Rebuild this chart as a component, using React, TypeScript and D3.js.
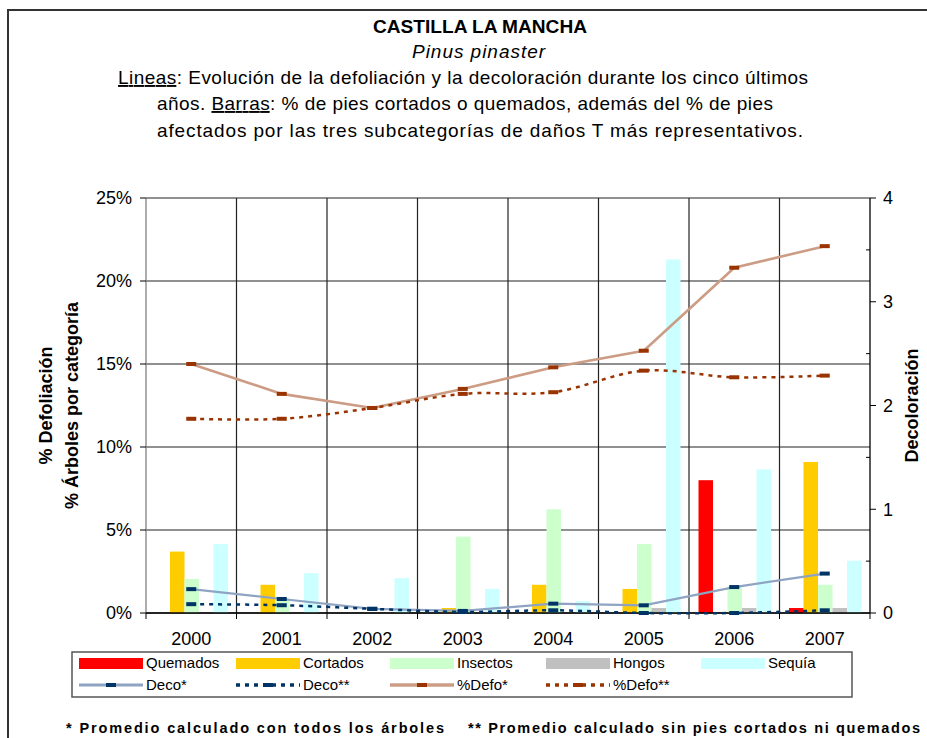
import React from 'react';
import * as d3 from 'd3';

const years = ['2000', '2001', '2002', '2003', '2004', '2005', '2006', '2007'];
const quemados = [0, 0, 0, 0, 0, 0, 8.0, 0.3];
const cortados = [3.7, 1.7, 0, 0.3, 1.7, 1.45, 0, 9.1];
const insectos = [2.05, 0.9, 0, 4.6, 6.25, 4.15, 1.6, 1.7];
const hongos = [0, 0, 0, 0, 0, 0.3, 0.3, 0.3];
const sequia = [4.15, 2.4, 2.1, 1.45, 0.72, 21.3, 8.65, 3.15];

const defoAll = [15.0, 13.2, 12.35, 13.5, 14.8, 15.8, 20.8, 22.1];
const defoSin = [11.7, 11.7, 12.35, 13.2, 13.3, 14.6, 14.2, 14.3];
const decoAll = [0.23, 0.135, 0.04, 0.02, 0.09, 0.074, 0.25, 0.38];
const decoSin = [0.085, 0.075, 0.04, 0.01, 0.026, 0.0, 0.0, 0.026];

const leftTicks = [0, 5, 10, 15, 20, 25];
const rightTicks = [0, 1, 2, 3, 4];
const rightMinor = [0.5, 1.5, 2.5, 3.5];

const barSeries = [
  { name: 'Quemados', values: quemados, color: '#FF0000' },
  { name: 'Cortados', values: cortados, color: '#FFCC00' },
  { name: 'Insectos', values: insectos, color: '#CCFFCC' },
  { name: 'Hongos', values: hongos, color: '#C0C0C0' },
  { name: 'Sequía', values: sequia, color: '#CCFFFF' },
];

const lineSeries = [
  { name: 'Deco*', values: decoAll, axis: 'R', color: '#8EA4C2', width: 2.2, dash: null, marker: '#003366', smooth: false },
  { name: 'Deco**', values: decoSin, axis: 'R', color: '#003366', width: 2.5, dash: '4,5', marker: '#003366', smooth: true },
  { name: '%Defo*', values: defoAll, axis: 'L', color: '#CC9C84', width: 2.6, dash: null, marker: '#993300', smooth: false },
  { name: '%Defo**', values: defoSin, axis: 'L', color: '#993300', width: 2.5, dash: '4,5', marker: '#993300', smooth: true },
];

const FONT = 'Arial, "Liberation Sans", sans-serif';

export default function App() {
  const L = 146, R = 870, T = 198, B = 613;
  const x0 = d3.scaleBand<string>().domain(years).range([L, R]).padding(0);
  const bw = x0.bandwidth();
  const x1 = d3.scaleBand<string>().domain(barSeries.map(s => s.name)).range([9.5, bw - 8.5]).padding(0);
  const yL = d3.scaleLinear().domain([0, 25]).range([B, T]);
  const yR = d3.scaleLinear().domain([0, 4]).range([B, T]);
  const cx = (y: string) => (x0(y) as number) + bw / 2;
  const bounds = years.map(y => x0(y) as number).concat([R]);

  const legendX = [79, 236, 390, 546, 701];

  return (
    <svg width={927} height={738} style={{ position: 'absolute', left: 0, top: 0, background: '#fff' }} fontFamily={FONT}>
      <rect x={0} y={0} width={927} height={738} fill="#fff" />
      <rect x={8} y={10} width={940} height={760} fill="none" stroke="#333" strokeWidth={2} />

      {/* Titles */}
      <text x={373} y={33} fontSize={18} fontWeight="bold" textLength={214} lengthAdjust="spacingAndGlyphs">CASTILLA LA MANCHA</text>
      <text x={412} y={58} fontSize={19} fontStyle="italic" textLength={133} lengthAdjust="spacing">Pinus pinaster</text>
      <text x={118} y={84} fontSize={19} textLength={690} lengthAdjust="spacing">
        <tspan textDecoration="underline">Lineas</tspan>: Evolución de la defoliación y la decoloración durante los cinco últimos
      </text>
      <text x={157} y={110} fontSize={19} textLength={616} lengthAdjust="spacing">
        años. <tspan textDecoration="underline">Barras</tspan>: % de pies cortados o quemados, además del % de pies
      </text>
      <text x={157} y={137} fontSize={19} textLength={646} lengthAdjust="spacing">
        afectados por las tres subcategorías de daños T más representativos.
      </text>

      {/* Horizontal gridlines */}
      {leftTicks.map(t => (
        <line key={'hg' + t} x1={L} x2={R} y1={yL(t)} y2={yL(t)} stroke="#222" strokeWidth={1.2} />
      ))}
      {/* Vertical gridlines */}
      {bounds.slice(1, -1).map((bx, i) => (
        <line key={'vg' + i} x1={bx} x2={bx} y1={T} y2={B} stroke="#222" strokeWidth={1.2} />
      ))}

      {/* Bars */}
      {barSeries.map(s => (
        <g key={s.name}>
          {years.map((y, i) => s.values[i] > 0 ? (
            <rect key={y} x={(x0(y) as number) + (x1(s.name) as number)} width={x1.bandwidth()}
              y={yL(s.values[i])} height={B - yL(s.values[i])} fill={s.color} />
          ) : null)}
        </g>
      ))}

      {/* Axes */}
      <line x1={L} x2={L} y1={T} y2={B} stroke="#808080" strokeWidth={1.3} />
      <line x1={R} x2={R} y1={T} y2={B} stroke="#000" strokeWidth={1.3} />
      <line x1={L} x2={R} y1={B} y2={B} stroke="#000" strokeWidth={1.3} />
      {leftTicks.map(t => (
        <g key={'lt' + t}>
          <line x1={L - 6} x2={L} y1={yL(t)} y2={yL(t)} stroke="#000" strokeWidth={1} />
          <text x={132} y={yL(t)} dy="0.35em" textAnchor="end" fontSize={18}>{t + '%'}</text>
        </g>
      ))}
      {rightTicks.map(t => (
        <g key={'rt' + t}>
          <line x1={R} x2={R + 6} y1={yR(t)} y2={yR(t)} stroke="#000" strokeWidth={1} />
          <text x={883} y={yR(t)} dy="0.35em" textAnchor="start" fontSize={18}>{t}</text>
        </g>
      ))}
      {rightMinor.map(t => (
        <line key={'rm' + t} x1={R - 4} x2={R} y1={yR(t)} y2={yR(t)} stroke="#000" strokeWidth={1} />
      ))}
      {bounds.map((bx, i) => (
        <line key={'xt' + i} x1={bx} x2={bx} y1={B} y2={B + 6} stroke="#000" strokeWidth={1} />
      ))}
      {years.map(y => (
        <text key={'xl' + y} x={cx(y)} y={645} textAnchor="middle" fontSize={18}>{y}</text>
      ))}

      {/* Lines */}
      {lineSeries.map(s => {
        const sc = s.axis === 'L' ? yL : yR;
        const gen = d3.line<number>()
          .x((_, i) => cx(years[i]))
          .y(v => sc(v))
          .curve(s.smooth ? d3.curveCatmullRom : d3.curveLinear);
        return (
          <g key={s.name}>
            <path d={gen(s.values) || ''} fill="none" stroke={s.color} strokeWidth={s.width}
              strokeDasharray={s.dash || undefined} />
            {s.values.map((v, i) => (
              <rect key={i} x={cx(years[i]) - 5} y={sc(v) - 2} width={10} height={4} fill={s.marker} />
            ))}
          </g>
        );
      })}

      {/* Axis titles */}
      <text transform={`translate(52,${(T + B) / 2}) rotate(-90)`} textAnchor="middle" fontSize={18} fontWeight="bold">% Defoliación</text>
      <text transform={`translate(78,${(T + B) / 2}) rotate(-90)`} textAnchor="middle" fontSize={18} fontWeight="bold">% Árboles por categoría</text>
      <text transform={`translate(918,${(T + B) / 2}) rotate(-90)`} textAnchor="middle" fontSize={18} fontWeight="bold">Decoloración</text>

      {/* Legend */}
      <rect x={72} y={652} width={780} height={45} fill="#fff" stroke="#555" strokeWidth={1.5} />
      {barSeries.map((s, i) => (
        <g key={'lg' + s.name}>
          <rect x={legendX[i]} y={658} width={64} height={11} fill={s.color} />
          <text x={legendX[i] + 67} y={668} fontSize={15}>{s.name}</text>
        </g>
      ))}
      {lineSeries.map((s, i) => (
        <g key={'ll' + s.name}>
          <line x1={legendX[i]} x2={legendX[i] + 64} y1={685} y2={685} stroke={s.color} strokeWidth={s.width + 0.8}
            strokeDasharray={s.dash || undefined} />
          <rect x={legendX[i] + 27} y={683} width={10} height={4} fill={s.marker} />
          <text x={legendX[i] + 67} y={690} fontSize={15}>{s.name}</text>
        </g>
      ))}

      {/* Footnotes */}
      <text x={66} y={733} fontSize={14.5} fontWeight="bold" textLength={378} lengthAdjust="spacing">* Promedio calculado con todos los árboles</text>
      <text x={468} y={733} fontSize={14.5} fontWeight="bold" textLength={452} lengthAdjust="spacing">** Promedio calculado sin pies cortados ni quemados</text>
    </svg>
  );
}
